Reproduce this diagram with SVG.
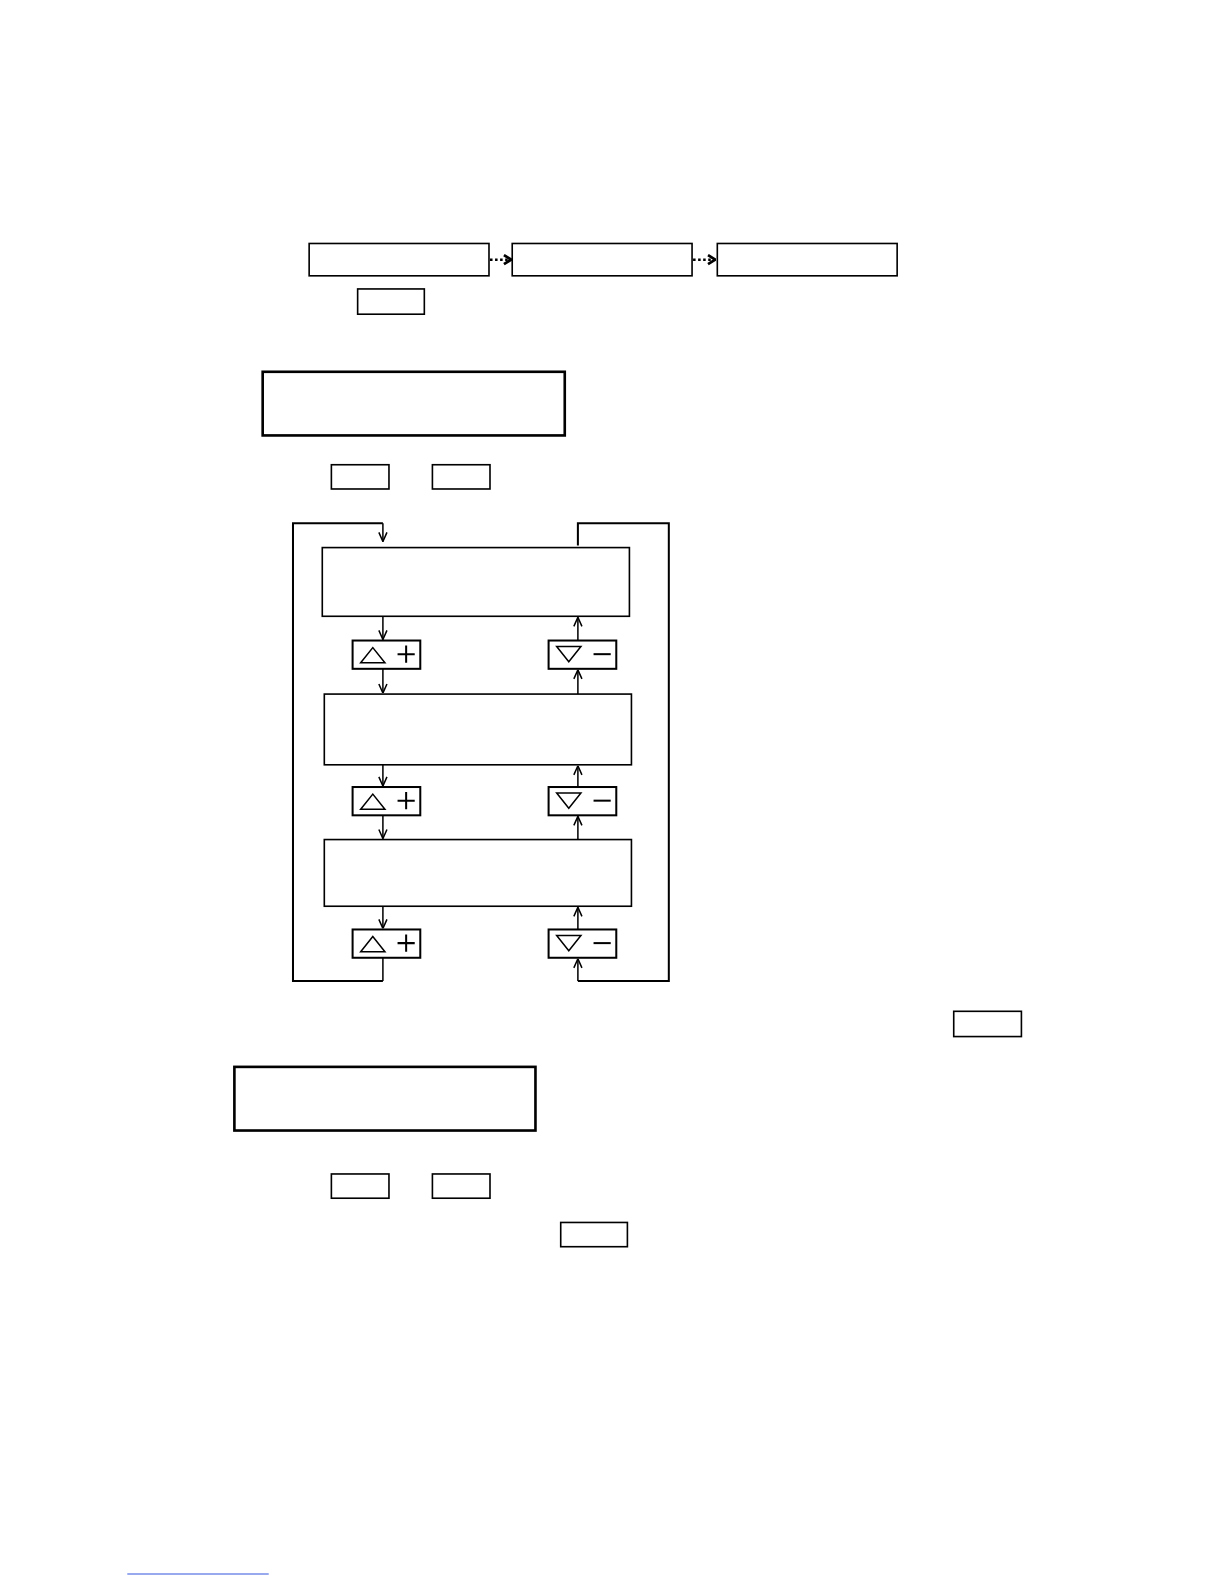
<svg xmlns="http://www.w3.org/2000/svg" width="1224" height="1584" viewBox="0 0 1224 1584">
<style>
.box{fill:#fff;stroke:#000;stroke-width:1.6}
.thick{fill:#fff;stroke:#000;stroke-width:2.6}
.btn{fill:#fff;stroke:#000;stroke-width:2}
.tri{fill:none;stroke:#000;stroke-width:1.5}
.sym{fill:none;stroke:#000;stroke-width:2}
.ln{fill:none;stroke:#000;stroke-width:1.5}
.loop{fill:none;stroke:#000;stroke-width:2}
.dot{fill:none;stroke:#000;stroke-width:2.5;stroke-dasharray:2.5 2.5}
</style>
<defs>
<marker id="v" viewBox="0 0 10 10" refX="10" refY="5" markerWidth="10" markerHeight="10" markerUnits="userSpaceOnUse" orient="auto">
<path d="M1,1 L10,5 L1,9" fill="none" stroke="#000" stroke-width="1.5"/>
</marker>
<marker id="chev" viewBox="0 0 10 12" refX="9" refY="6" markerWidth="9" markerHeight="12" markerUnits="userSpaceOnUse" orient="auto">
<path d="M1,1 L9,6 L1,11" fill="none" stroke="#000" stroke-width="3"/>
</marker>
<g id="plusBtn">
<rect class="btn" x="0" y="0" width="67" height="28"/>
<path class="tri" d="M8,22 L20,7 L32,22 Z"/>
<path class="sym" d="M53,5 V22 M44.5,13.5 H61.5"/>
</g>
<g id="minusBtn">
<rect class="btn" x="0" y="0" width="67" height="28"/>
<path class="tri" d="M8,6 L20,21 L32,6 Z"/>
<path class="sym" d="M44.5,13.5 H61.5"/>
</g>
</defs>
<g transform="scale(1.0103)">
<g id="connectors">
<line class="dot" x1="485" y1="257" x2="506" y2="257" marker-end="url(#chev)"/>
<line class="dot" x1="686" y1="257" x2="708" y2="257" marker-end="url(#chev)"/>
<path class="loop" d="M379,971 H290 V518 H379"/>
<line class="ln" x1="379" y1="518" x2="379" y2="536" marker-end="url(#v)"/>
<path class="loop" d="M572,540 V518 H662 V971 H572"/>
<line class="ln" x1="572" y1="971" x2="572" y2="949" marker-end="url(#v)"/>
<line class="ln" x1="379" y1="948" x2="379" y2="971"/>
<line class="ln" x1="379" y1="610" x2="379" y2="633" marker-end="url(#v)"/>
<line class="ln" x1="379" y1="662" x2="379" y2="686" marker-end="url(#v)"/>
<line class="ln" x1="379" y1="757" x2="379" y2="778" marker-end="url(#v)"/>
<line class="ln" x1="379" y1="807" x2="379" y2="830" marker-end="url(#v)"/>
<line class="ln" x1="379" y1="897" x2="379" y2="919" marker-end="url(#v)"/>
<line class="ln" x1="572" y1="634" x2="572" y2="611" marker-end="url(#v)"/>
<line class="ln" x1="572" y1="687" x2="572" y2="663" marker-end="url(#v)"/>
<line class="ln" x1="572" y1="779" x2="572" y2="758" marker-end="url(#v)"/>
<line class="ln" x1="572" y1="831" x2="572" y2="808" marker-end="url(#v)"/>
<line class="ln" x1="572" y1="920" x2="572" y2="898" marker-end="url(#v)"/>
</g>
<g id="step1"><rect class="box" x="306" y="241" width="178" height="32"/></g>
<g id="step2"><rect class="box" x="507" y="241" width="178" height="32"/></g>
<g id="step3"><rect class="box" x="710" y="241" width="178" height="32"/></g>
<g id="key1"><rect class="box" x="354" y="286" width="66" height="25"/></g>
<g id="display1"><rect class="thick" x="260" y="368" width="299" height="63"/></g>
<g id="key2"><rect class="box" x="328" y="460" width="57" height="24"/></g>
<g id="key3"><rect class="box" x="428" y="460" width="57" height="24"/></g>
<g id="menu1"><rect class="box" x="319" y="542" width="304" height="68"/></g>
<g id="up1"><use href="#plusBtn" x="349" y="634"/></g>
<g id="down1"><use href="#minusBtn" x="543" y="634"/></g>
<g id="menu2"><rect class="box" x="321" y="687" width="304" height="70"/></g>
<g id="up2"><use href="#plusBtn" x="349" y="779"/></g>
<g id="down2"><use href="#minusBtn" x="543" y="779"/></g>
<g id="menu3"><rect class="box" x="321" y="831" width="304" height="66"/></g>
<g id="up3"><use href="#plusBtn" x="349" y="920"/></g>
<g id="down3"><use href="#minusBtn" x="543" y="920"/></g>
<g id="key4"><rect class="box" x="944" y="1001" width="67" height="25"/></g>
<g id="display2"><rect class="thick" x="232" y="1056" width="298" height="63"/></g>
<g id="key5"><rect class="box" x="328" y="1162" width="57" height="24"/></g>
<g id="key6"><rect class="box" x="428" y="1162" width="57" height="24"/></g>
<g id="key7"><rect class="box" x="555" y="1210" width="66" height="24"/></g>
<line x1="126" y1="1558" x2="266" y2="1558" stroke="#3355dd" stroke-width="1"/>
</g>
</svg>
